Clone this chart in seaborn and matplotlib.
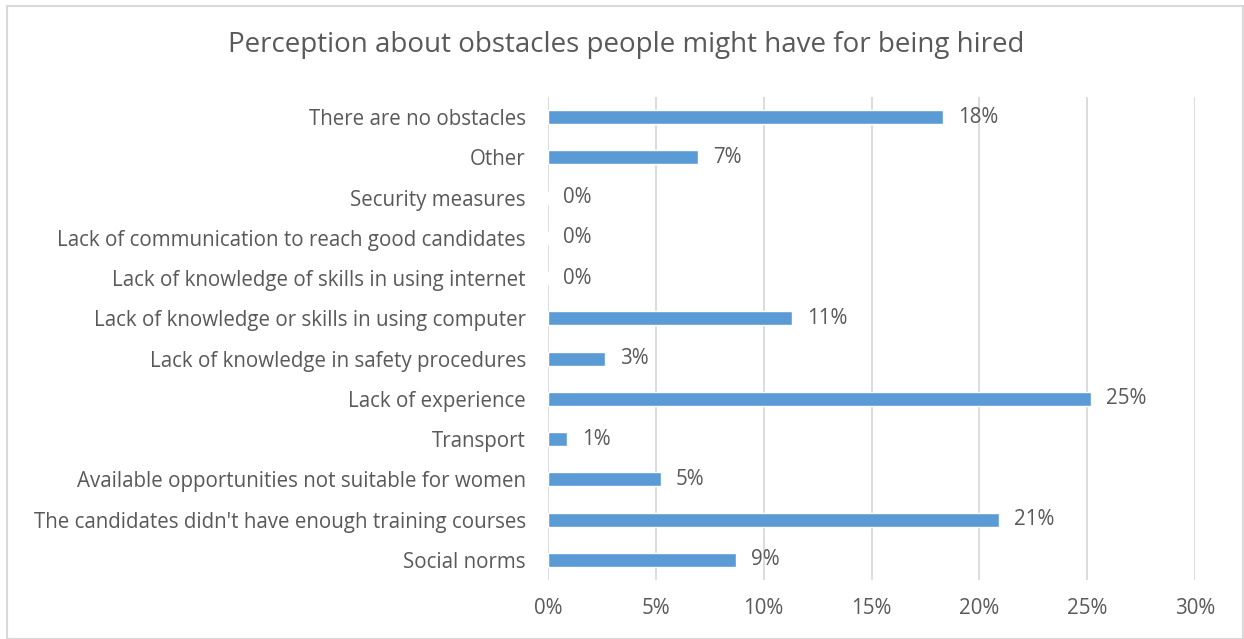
import matplotlib
matplotlib.use("Agg")
import matplotlib.pyplot as plt
import seaborn as sns
import pandas as pd
from matplotlib.patches import Rectangle

categories = [
    "There are no obstacles",
    "Other",
    "Security measures",
    "Lack of communication to reach good candidates",
    "Lack of knowledge of skills in using internet",
    "Lack of knowledge or skills in using computer",
    "Lack of knowledge in safety procedures",
    "Lack of experience",
    "Transport",
    "Available opportunities not suitable for women",
    "The candidates didn't have enough training courses",
    "Social norms",
]
values = [18.3, 6.95, 0.0, 0.0, 0.0, 11.3, 2.65, 25.2, 0.88, 5.24, 20.9, 8.7]
xticks = [0, 5, 10, 15, 20, 25, 30]

sns.set_theme(style="white")
plt.rcParams['font.family'] = ['Open Sans', 'DejaVu Sans']
TXT = "#595959"
FS = 14.8

df = pd.DataFrame({"cat": categories, "val": values})

fig = plt.figure(figsize=(12.44, 6.39), dpi=100)
ax = fig.add_axes([548/1244, 1-580/639, (1195-548)/1244, (580-97)/639])

sns.barplot(data=df, y="cat", x="val", orient="h", color="#5B9BD5",
            saturation=1, width=0.35, ax=ax)

ax.set_xlim(0, 30)
ax.set_ylim(len(categories)-0.5, -0.5)
ax.set_xticks(xticks)
ax.set_xticklabels([f"{t}%" for t in xticks], color=TXT, fontsize=FS)
ax.tick_params(axis="y", labelsize=FS, labelcolor=TXT, length=0, pad=16)
ax.tick_params(axis="x", length=0, pad=13)
ax.set_xlabel("")
ax.set_ylabel("")
ax.grid(axis="x", color="#D9D9D9", linewidth=1.3)
ax.set_axisbelow(True)
for s in ax.spines.values():
    s.set_visible(False)

for i, v in enumerate(values):
    ax.annotate(f"{round(v)}%", xy=(v, i), xytext=(15, 0), textcoords="offset pixels",
                va="center", ha="left", color=TXT, fontsize=FS)

fig.text(626/1244, 1-45/639, "Perception about obstacles people might have for being hired",
         ha="center", va="center", color=TXT, fontsize=20)

fig.patches.append(Rectangle((7/1244, 0), 1-8/1244, 1-6/639, transform=fig.transFigure,
                             fill=False, edgecolor="#D9D9D9", linewidth=1.5))

fig.savefig("out.png", dpi=100)
